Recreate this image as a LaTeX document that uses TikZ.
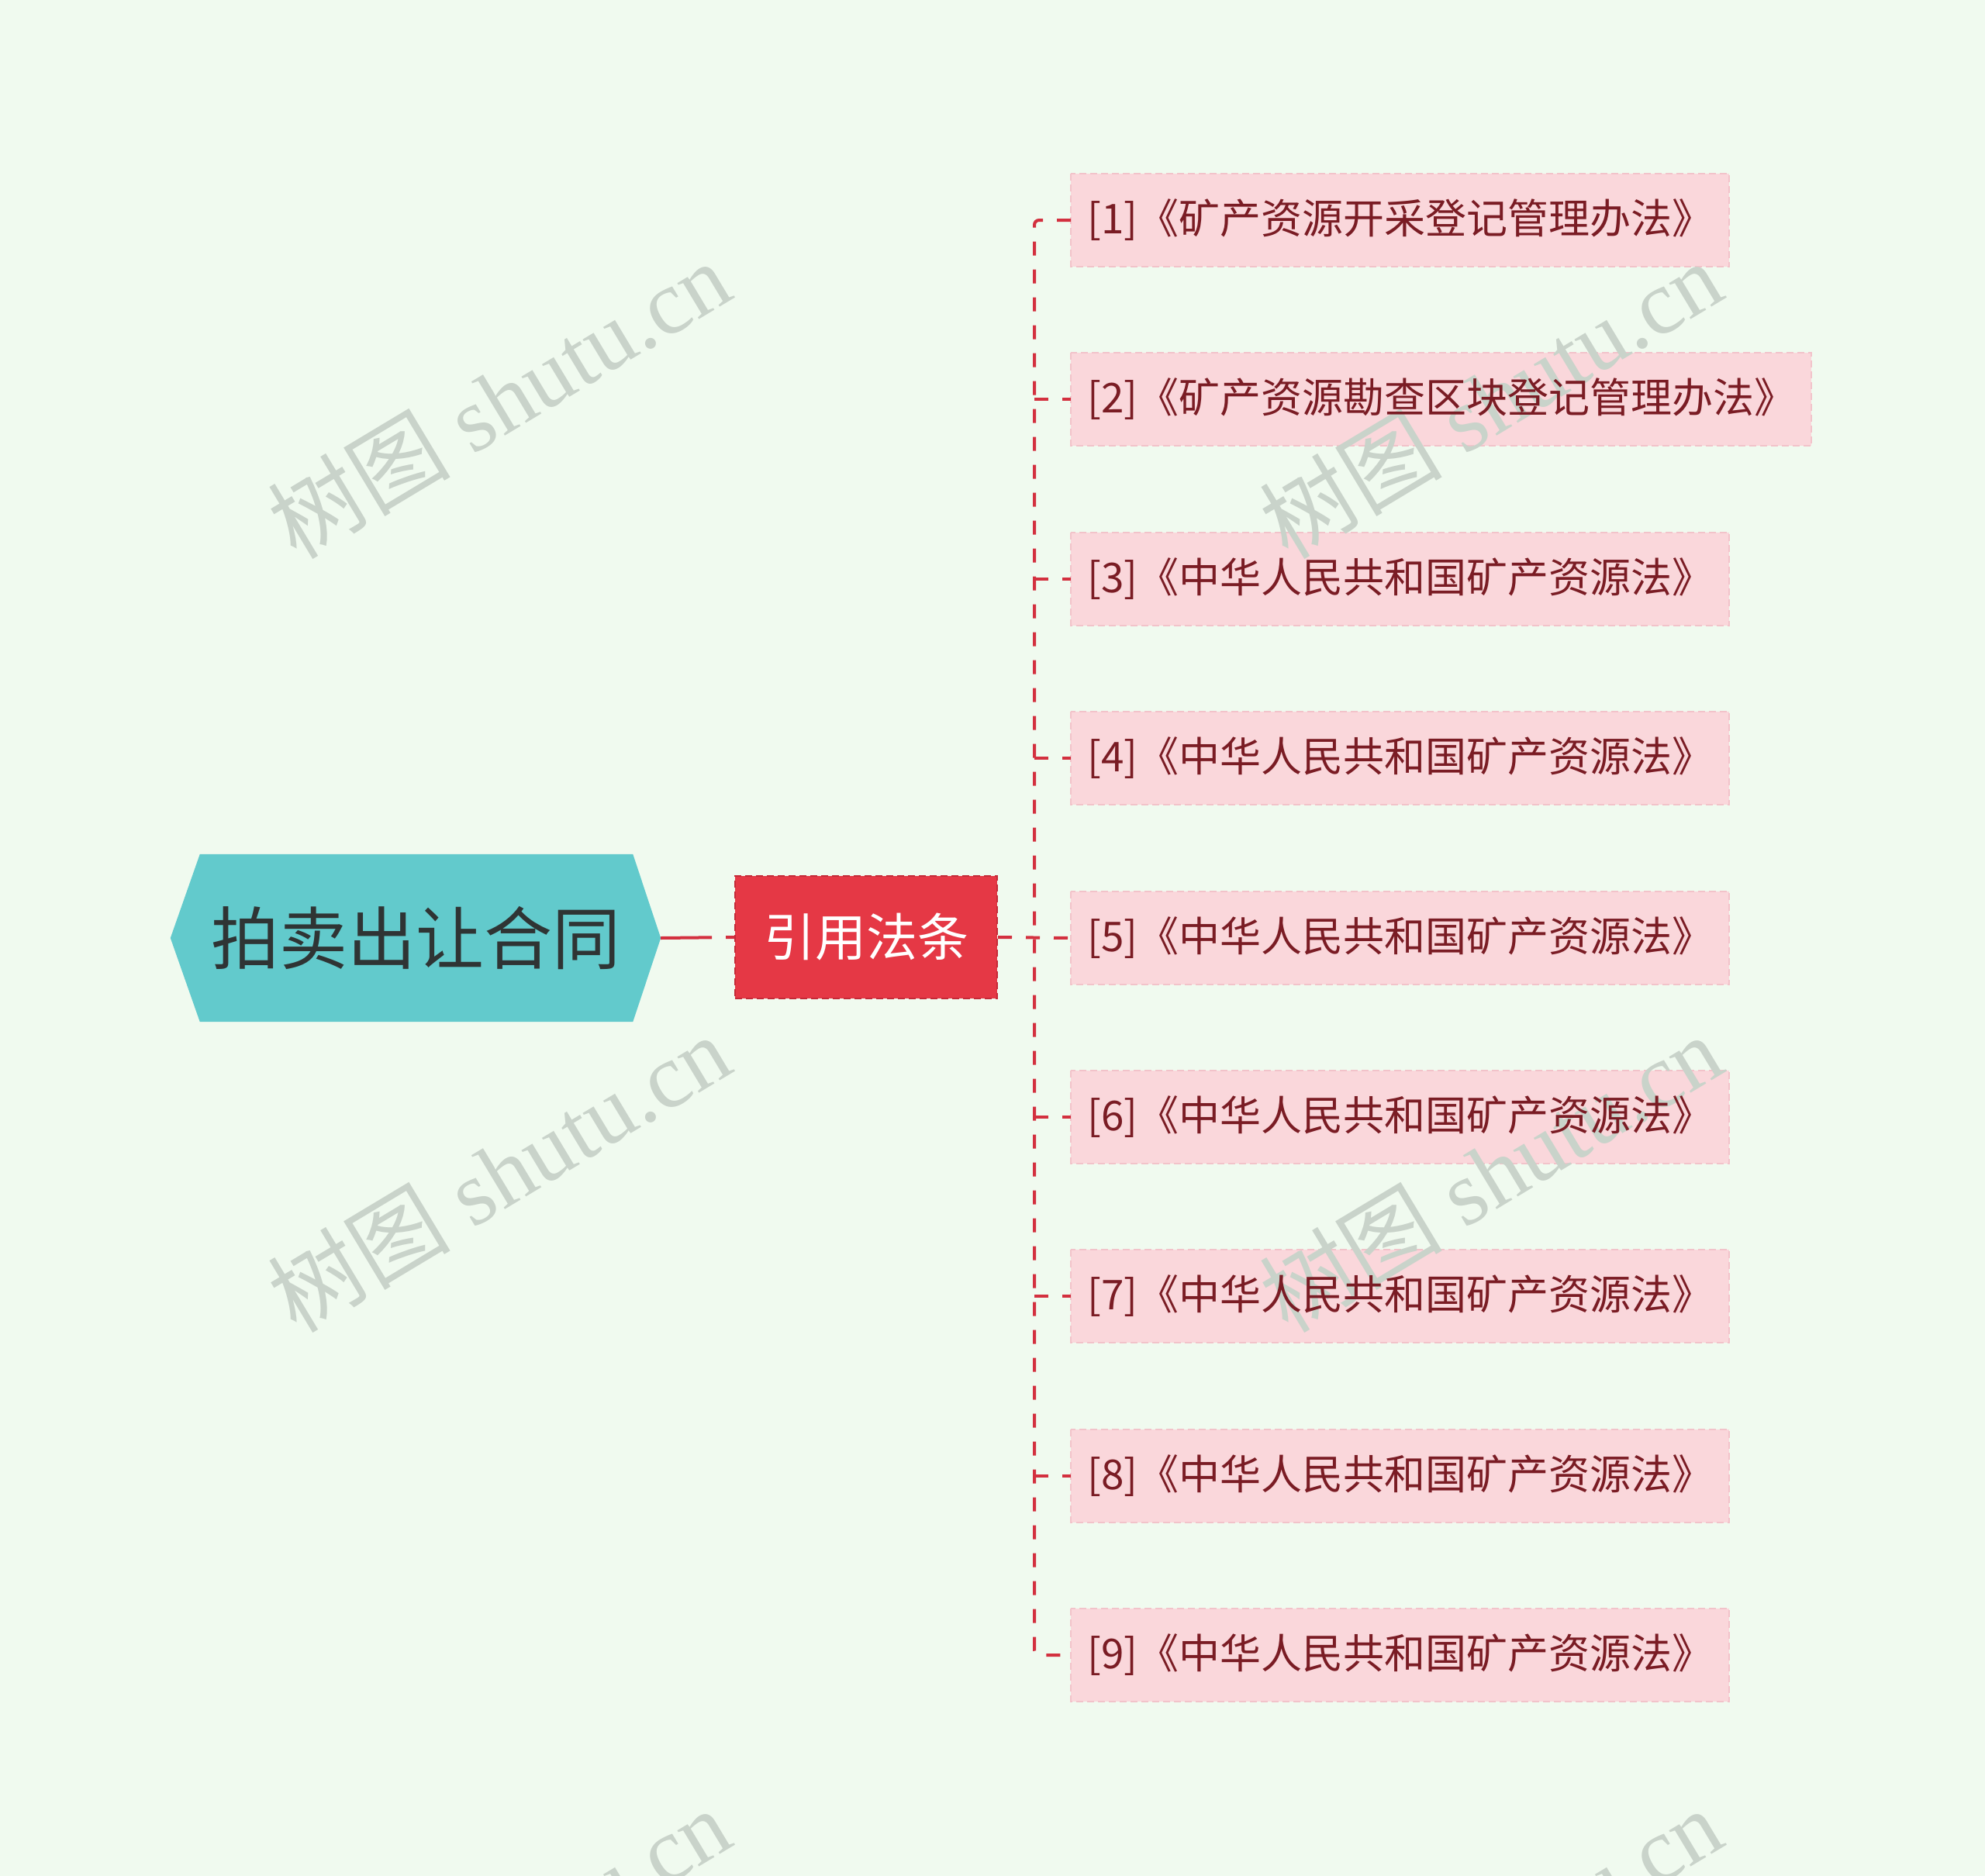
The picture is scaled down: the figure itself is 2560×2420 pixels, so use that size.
\documentclass[tikz,border=0pt]{standalone}
\usepackage{fontspec}
\setmainfont{Noto Sans CJK SC}
\newfontfamily\cjkfont{Noto Sans CJK SC}
\newfontfamily\wmlatin{Liberation Serif}
\usetikzlibrary{calc,backgrounds}
\pgfdeclarelayer{wm}
\pgfsetlayers{background,wm,main}
\definecolor{bgc}{HTML}{F0FAEF}
\definecolor{rootfill}{HTML}{62CACC}
\definecolor{roottext}{HTML}{2F3434}
\definecolor{midfill}{HTML}{E53845}
\definecolor{midborder}{HTML}{C42A38}
\definecolor{leaffill}{HTML}{FAD7DB}
\definecolor{leafborder}{HTML}{F2C3CA}
\definecolor{leaftext}{HTML}{7A1C24}
\definecolor{edgec}{HTML}{D3303F}
\definecolor{wmc}{HTML}{C9D3CA}
\tikzset{
  rootnode/.style={minimum width=632pt, minimum height=216pt, inner sep=0pt,
    text=roottext, font=\fontsize{88}{96}\selectfont},
  midnode/.style={fill=midfill, draw=midborder, line width=2pt, dash pattern=on 9pt off 5pt,
    minimum width=338pt, minimum height=158pt, inner sep=0pt,
    text=white, font=\fontsize{66}{72}\selectfont},
  leafnode/.style={anchor=west, minimum width=849pt, minimum height=119pt, inner sep=0pt,
    text=leaftext, font=\fontsize{53}{58}\selectfont},
  leafbox/.style={fill=leaffill, draw=leafborder, line width=2pt, dash pattern=on 9pt off 5pt},
  edge/.style={draw=edgec, line width=4pt, dash pattern=on 18pt off 18pt},
  wmark/.style={text=wmc, rotate=31, inner sep=0pt, font=\fontsize{118}{124}\selectfont}
}
\begin{document}
\begin{tikzpicture}[x=1pt,y=-1pt]
\useasboundingbox (0,0) rectangle (2560,2420);
% nodes
\node[rootnode] (root) at (536,1210) {拍卖出让合同};
\node[midnode] (mid) at (1117,1209) {引用法条};
\node[leafnode] (l1) at (1381,284) {[1]《矿产资源开采登记管理办法》};
\node[leafnode, minimum width=955pt] (l2) at (1381,515) {[2]《矿产资源勘查区块登记管理办法》};
\node[leafnode] (l3) at (1381,747) {[3]《中华人民共和国矿产资源法》};
\node[leafnode] (l4) at (1381,978) {[4]《中华人民共和国矿产资源法》};
\node[leafnode] (l5) at (1381,1210) {[5]《中华人民共和国矿产资源法》};
\node[leafnode] (l6) at (1381,1441) {[6]《中华人民共和国矿产资源法》};
\node[leafnode] (l7) at (1381,1672) {[7]《中华人民共和国矿产资源法》};
\node[leafnode] (l8) at (1381,1904) {[8]《中华人民共和国矿产资源法》};
\node[leafnode] (l9) at (1381,2135) {[9]《中华人民共和国矿产资源法》};
\begin{scope}[on background layer]
  \fill[bgc] (0,0) rectangle (2560,2420);
  \fill[rootfill] (root.west) -- ($(root.north west)+(38,0)$) -- ($(root.north east)+(-36,0)$)
    -- (root.east) -- ($(root.south east)+(-36,0)$) -- ($(root.south west)+(38,0)$) -- cycle;
  \foreach \i in {1,...,9} {
    \path[leafbox] (l\i.north west) rectangle (l\i.south east);
  }
\end{scope}
% connectors
\coordinate (jx) at (1334,1209);
\draw[edge, dash pattern=on 66pt off 18pt] (root.east) -- (mid.west);
\draw[edge] (mid.east) -- (l5.west);
\draw[edge, rounded corners=6pt] (l1.west) -- (jx |- l1.west) -- (jx |- l9.west) -- (l9.west);
\foreach \i in {2,3,4,6,7,8} {
  \draw[edge] (jx |- l\i.west) -- (l\i.west);
}
% watermarks
\begin{pgfonlayer}{wm}
\begin{scope}
\clip (0,0) rectangle (2560,2420);
\foreach \wx/\wy [count=\k] in {643/515, 1922/515, 643/1513, 1922/1513, 643/2511, 1922/2511} {
  \node[wmark] (wm\k) at (\wx,\wy) {\cjkfont 树图\wmlatin{} shutu.cn};
}
\end{scope}
\end{pgfonlayer}
\end{tikzpicture}
\end{document}
